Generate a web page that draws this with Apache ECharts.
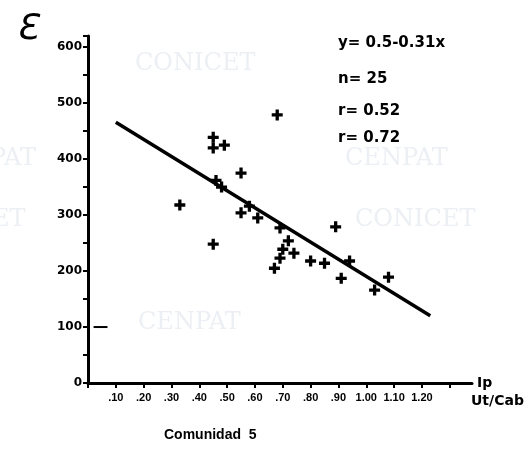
<!DOCTYPE html>
<html>
<head>
<meta charset="utf-8">
<script src="https://cdn.jsdelivr.net/npm/echarts@6/dist/echarts.min.js"></script>
<style>
    html, body { margin: 0; padding: 0; background: #fff; }
    #chart { width: 524px; height: 454px; }
</style>
</head>
<body>
<div id="chart"></div>
<script>
// datos (Ip en Ut/Cab, Ɛ)
const puntosX = [0.68, 0.45, 0.45, 0.49, 0.55, 0.46, 0.48, 0.33, 0.58, 0.55, 0.61, 0.69, 0.45,
                 0.72, 0.70, 0.74, 0.69, 0.67, 0.89, 0.80, 0.85, 0.94, 0.91, 1.08, 1.03];
const puntosY = [479, 439, 420, 425, 375, 362, 350, 318, 316, 304, 295, 277, 248,
                 254, 239, 232, 223, 205, 279, 218, 214, 218, 187, 189, 166];

// recta de regresion y = 0.5 - 0.31x
const rectaX = [0.10, 1.23];
const rectaY = [466, 120];

// marca corta junto a 100
const marcaX = [0.02, 0.07];
const marcaY = [100, 100];

const fuente = 'DejaVu Sans';

const chart = echarts.init(document.getElementById('chart'));

const option = {
    backgroundColor: '#fff',
    animation: false,
    grid: { left: 88, right: 52, top: 36, bottom: 71 },
    xAxis: {
        type: 'value',
        min: 0,
        max: 1.38,
        interval: 0.1,
        name: 'Ip',
        nameLocation: 'end',
        nameGap: 5,
        nameTextStyle: { color: '#000', fontFamily: fuente, fontWeight: 'bold', fontSize: 14, verticalAlign: 'middle' },
        axisLine: { lineStyle: { color: '#000', width: 3 } },
        axisTick: { length: 5, lineStyle: { color: '#000', width: 2 } },
        splitLine: { show: false },
        axisLabel: {
            color: '#000',
            fontFamily: 'Liberation Sans',
            fontWeight: 'bold',
            fontSize: 11,
            margin: 9,
            showMaxLabel: false,
            formatter: function (v) {
                if (v <= 0 || v > 1.25) return '';
                return v < 1 ? '.' + Math.round(v * 100) : v.toFixed(2);
            }
        }
    },
    yAxis: {
        type: 'value',
        min: 0,
        max: 620,
        interval: 100,
        axisLine: { lineStyle: { color: '#000', width: 3 } },
        axisTick: { length: 5, lineStyle: { color: '#000', width: 2 } },
        minorTick: { show: true, splitNumber: 2, length: 5, lineStyle: { color: '#000', width: 2 } },
        splitLine: { show: false },
        axisLabel: {
            color: '#000',
            fontFamily: fuente,
            fontWeight: 'bold',
            fontSize: 12,
            margin: 6,
            showMaxLabel: false,
            formatter: function (v) { return v > 600 ? '' : v; }
        }
    },
    series: [
        {
            type: 'line',
            data: rectaX.map((x, i) => [x, rectaY[i]]),
            showSymbol: false,
            lineStyle: { color: '#000', width: 3.5 },
            z: 2
        },
        {
            type: 'line',
            data: marcaX.map((x, i) => [x, marcaY[i]]),
            showSymbol: false,
            lineStyle: { color: '#000', width: 2 },
            z: 2
        },
        {
            type: 'scatter',
            data: puntosX.map((x, i) => [x, puntosY[i]]),
            symbol: 'path://M3.5,0L6.5,0L6.5,3.5L10,3.5L10,6.5L6.5,6.5L6.5,10L3.5,10L3.5,6.5L0,6.5L0,3.5L3.5,3.5Z',
            symbolSize: 11,
            itemStyle: { color: '#000', opacity: 1 },
            z: 3
        }
    ],
    graphic: [
        // marcas de agua
        { type: 'text', left: 135, top: 52, z: -1, style: { text: 'CONICET', fill: '#eceff3', font: '24px "DejaVu Serif"' } },
        { type: 'text', left: -10, top: 147, z: -1, style: { text: 'PAT', fill: '#eceff3', font: '24px "DejaVu Serif"' } },
        { type: 'text', left: 345, top: 147, z: -1, style: { text: 'CENPAT', fill: '#eceff3', font: '24px "DejaVu Serif"' } },
        { type: 'text', left: -8, top: 208, z: -1, style: { text: 'ET', fill: '#eceff3', font: '24px "DejaVu Serif"' } },
        { type: 'text', left: 355, top: 208, z: -1, style: { text: 'CONICET', fill: '#eceff3', font: '24px "DejaVu Serif"' } },
        { type: 'text', left: 138, top: 311, z: -1, style: { text: 'CENPAT', fill: '#eceff3', font: '24px "DejaVu Serif"' } },
        // textos
        { type: 'text', left: 16, top: 12, style: { text: 'Ɛ', fill: '#000', font: 'italic 36px "DejaVu Sans"' } },
        { type: 'text', left: 338, top: 36, style: { text: 'y= 0.5-0.31x', fill: '#000', font: 'bold 15px "DejaVu Sans"' } },
        { type: 'text', left: 338, top: 72, style: { text: 'n= 25', fill: '#000', font: 'bold 15px "DejaVu Sans"' } },
        { type: 'text', left: 338, top: 104, style: { text: 'r= 0.52', fill: '#000', font: 'bold 15px "DejaVu Sans"' } },
        { type: 'text', left: 338, top: 131, style: { text: 'r= 0.72', fill: '#000', font: 'bold 15px "DejaVu Sans"' } },
        { type: 'text', left: 471, top: 394, style: { text: 'Ut/Cab', fill: '#000', font: 'bold 14px "DejaVu Sans"' } },
        { type: 'text', left: 164, top: 428, style: { text: 'Comunidad  5', fill: '#000', font: 'bold 14px "Liberation Sans"' } }
    ]
};

chart.setOption(option);
</script>
</body>
</html>
